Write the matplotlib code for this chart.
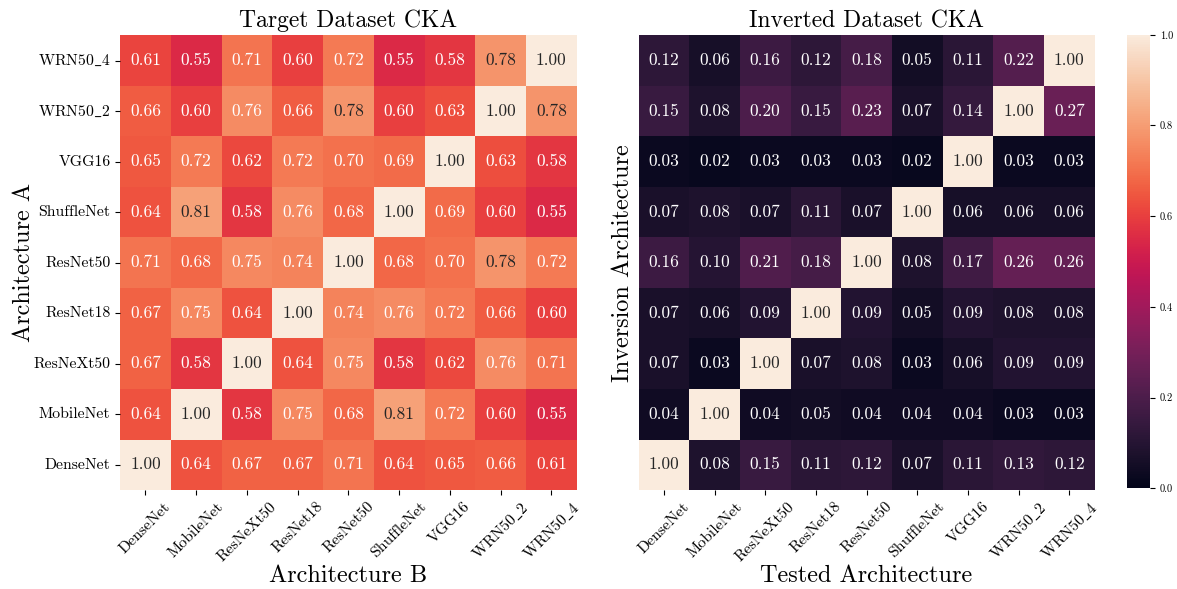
import numpy as np
import matplotlib
matplotlib.use("Agg")
import matplotlib.pyplot as plt
import seaborn as sns

plt.rcParams['font.family'] = ['cmr10', 'DejaVu Serif']
plt.rcParams['mathtext.fontset'] = 'cm'
plt.rcParams['axes.formatter.use_mathtext'] = True

archs = ["DenseNet", "MobileNet", "ResNeXt50", "ResNet18", "ResNet50",
         "ShuffleNet", "VGG16", "WRN50_2", "WRN50_4"]

target_cka = [
    [0.61, 0.55, 0.71, 0.60, 0.72, 0.55, 0.58, 0.78, 1.00],
    [0.66, 0.60, 0.76, 0.66, 0.78, 0.60, 0.63, 1.00, 0.78],
    [0.65, 0.72, 0.62, 0.72, 0.70, 0.69, 1.00, 0.63, 0.58],
    [0.64, 0.81, 0.58, 0.76, 0.68, 1.00, 0.69, 0.60, 0.55],
    [0.71, 0.68, 0.75, 0.74, 1.00, 0.68, 0.70, 0.78, 0.72],
    [0.67, 0.75, 0.64, 1.00, 0.74, 0.76, 0.72, 0.66, 0.60],
    [0.67, 0.58, 1.00, 0.64, 0.75, 0.58, 0.62, 0.76, 0.71],
    [0.64, 1.00, 0.58, 0.75, 0.68, 0.81, 0.72, 0.60, 0.55],
    [1.00, 0.64, 0.67, 0.67, 0.71, 0.64, 0.65, 0.66, 0.61],
]

inverted_cka = [
    [0.12, 0.06, 0.16, 0.12, 0.18, 0.05, 0.11, 0.22, 1.00],
    [0.15, 0.08, 0.20, 0.15, 0.23, 0.07, 0.14, 1.00, 0.27],
    [0.03, 0.02, 0.03, 0.03, 0.03, 0.02, 1.00, 0.03, 0.03],
    [0.07, 0.08, 0.07, 0.11, 0.07, 1.00, 0.06, 0.06, 0.06],
    [0.16, 0.10, 0.21, 0.18, 1.00, 0.08, 0.17, 0.26, 0.26],
    [0.07, 0.06, 0.09, 1.00, 0.09, 0.05, 0.09, 0.08, 0.08],
    [0.07, 0.03, 1.00, 0.07, 0.08, 0.03, 0.06, 0.09, 0.09],
    [0.04, 1.00, 0.04, 0.05, 0.04, 0.04, 0.04, 0.03, 0.03],
    [1.00, 0.08, 0.15, 0.11, 0.12, 0.07, 0.11, 0.13, 0.12],
]

# cmr10 has no underscore glyph, so go through mathtext for those names
def tex_name(s):
    if "_" in s:
        return r"$\mathrm{" + s.replace("_", r"\_") + "}$"
    return s

col_labels = [tex_name(a) for a in archs]
row_labels = col_labels[::-1]  # rows run top to bottom

fig = plt.figure(figsize=(11.77, 5.89), dpi=100)
ax1 = fig.add_axes([0.102, 0.168, 0.388, 0.772])
ax2 = fig.add_axes([0.5425, 0.168, 0.3875, 0.772])
cax = fig.add_axes([0.9575, 0.171, 0.0195, 0.770])

annot_kw = {"fontsize": 12.5}
sns.heatmap(np.array(target_cka), ax=ax1, vmin=0, vmax=1, cmap="rocket",
            annot=True, fmt=".2f", annot_kws=annot_kw, cbar=False,
            xticklabels=col_labels, yticklabels=row_labels)
sns.heatmap(np.array(inverted_cka), ax=ax2, vmin=0, vmax=1, cmap="rocket",
            annot=True, fmt=".2f", annot_kws=annot_kw, cbar=True, cbar_ax=cax,
            xticklabels=col_labels, yticklabels=False)

ax1.set_title("Target Dataset CKA", fontsize=17)
ax2.set_title("Inverted Dataset CKA", fontsize=17)
ax1.set_xlabel("Architecture B", fontsize=17.5)
ax1.set_ylabel("Architecture A", fontsize=17.5)
ax2.set_xlabel("Tested Architecture", fontsize=17.5)
ax2.set_ylabel("Inversion Architecture", fontsize=17.5)

ax1.xaxis.set_label_coords(0.5, -0.165)
ax2.xaxis.set_label_coords(0.5, -0.165)
ax1.yaxis.set_label_coords(-0.186, 0.5)
ax2.yaxis.set_label_coords(-0.011, 0.5)

for ax in (ax1, ax2):
    ax.set_xticklabels(col_labels, rotation=45, fontsize=11.3)
ax1.set_yticklabels(row_labels, rotation=0, fontsize=11.3)

cax.tick_params(labelsize=7.5)
cax.set_yticks([0.0, 0.2, 0.4, 0.6, 0.8, 1.0])
cax.set_yticklabels(["0.0", "0.2", "0.4", "0.6", "0.8", "1.0"])

fig.savefig("out.png", dpi=100)
